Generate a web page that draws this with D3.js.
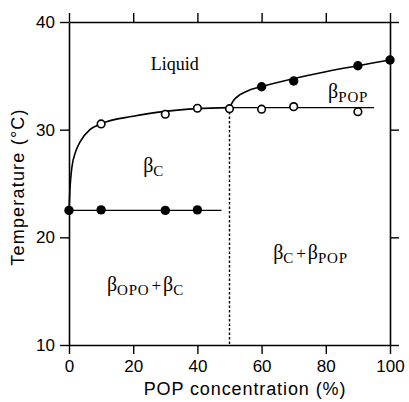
<!DOCTYPE html>
<html>
<head>
<meta charset="utf-8">
<script src="https://cdn.jsdelivr.net/npm/d3@7"></script>
<style>
  body { margin: 0; background: #fff; }
  svg { display: block; }
</style>
</head>
<body>
<div id="chart"></div>
<script>
// [POP %, temperature °C]
const filledLow = [[0, 22.5], [10, 22.55], [30, 22.5], [40, 22.55]];
const openPts = [[10, 30.53], [30, 31.43], [40, 31.99], [50, 31.95], [60, 31.9], [70, 32.14], [90, 31.67]];
const filledHigh = [[60, 33.99], [70, 34.52], [90, 35.94], [100, 36.47]];
// traced curves
const lowerCurve = [[0, 22.5], [0.3, 24.5], [0.9, 26.5], [2, 27.9], [3.5, 28.9], [6.5, 30.0], [10, 30.55], [20, 31.25], [30, 31.7], [40, 31.95], [50, 32.05]];
const upperCurve = [[50, 32.05], [51.5, 32.8], [53.3, 33.25], [56.4, 33.7], [60, 34.0], [100, 36.47]];
const solidusLine = [[0, 22.5], [47.5, 22.5]];
const popLine = [[50, 32.05], [95, 32.05]];
const dashLine = [[50, 32.05], [50, 10]];
const xTicks = [0, 20, 40, 60, 80, 100];
const yTicks = [10, 20, 30, 40];

let margin = {top: 22, right: 19, bottom: 57, left: 69},
  width = 409 - margin.left - margin.right,
  height = 402 - margin.top - margin.bottom;

let svg = d3.select("#chart").append("svg")
  .attr("width", 409).attr("height", 402)
  .append("g")
  .attr("transform", "translate(" + margin.left + "," + margin.top + ")");

let x = d3.scaleLinear().domain([0, 100]).range([0, width]);
let y = d3.scaleLinear().domain([10, 40]).range([height, 0]);

function styleAxis(g) {
  g.selectAll("path.domain").attr("stroke-width", 1.6);
  g.selectAll(".tick line").attr("stroke-width", 1.4);
  g.selectAll("text").attr("font-family", "'Liberation Sans', Arial, sans-serif")
    .attr("font-size", 17).attr("fill", "#000");
}

svg.append("g").attr("transform", "translate(0," + height + ")")
  .call(d3.axisBottom(x).tickValues(xTicks).tickSize(9).tickSizeOuter(0).tickPadding(6))
  .call(styleAxis);
svg.append("g")
  .call(d3.axisLeft(y).tickValues(yTicks).tickSize(9).tickSizeOuter(0).tickPadding(5))
  .call(styleAxis);
svg.append("g")
  .call(d3.axisTop(x).tickValues(xTicks).tickSize(9).tickSizeOuter(0).tickFormat(""))
  .call(styleAxis);
svg.append("g").attr("transform", "translate(" + width + ",0)")
  .call(d3.axisRight(y).tickValues(yTicks).tickSize(9).tickSizeOuter(0).tickFormat(""))
  .call(styleAxis);

// axis titles
svg.append("text")
  .attr("x", 176).attr("y", height + 50)
  .attr("text-anchor", "middle")
  .attr("font-family", "'Liberation Sans', Arial, sans-serif")
  .attr("font-size", 18).attr("letter-spacing", 0.9)
  .text("POP concentration (%)");
svg.append("text")
  .attr("transform", "rotate(-90)")
  .attr("x", -165).attr("y", -45)
  .attr("text-anchor", "middle")
  .attr("font-family", "'Liberation Sans', Arial, sans-serif")
  .attr("font-size", 18).attr("letter-spacing", 1.2)
  .text("Temperature (°C)");

let line = d3.line().x(d => x(d[0])).y(d => y(d[1]));

svg.append("path").datum(solidusLine)
  .attr("fill", "none").attr("stroke", "#000").attr("stroke-width", 1.1).attr("d", line);
svg.append("path").datum(popLine)
  .attr("fill", "none").attr("stroke", "#000").attr("stroke-width", 1.2).attr("d", line);
svg.append("path").datum(dashLine)
  .attr("fill", "none").attr("stroke", "#000").attr("stroke-width", 1.4)
  .attr("stroke-dasharray", "2.5,2").attr("d", line);
svg.append("path").datum(lowerCurve)
  .attr("fill", "none").attr("stroke", "#000").attr("stroke-width", 1.6)
  .attr("d", line.curve(d3.curveMonotoneX));
svg.append("path").datum(upperCurve)
  .attr("fill", "none").attr("stroke", "#000").attr("stroke-width", 1.6)
  .attr("d", line.curve(d3.curveMonotoneX));

// points
svg.selectAll(".open").data(openPts).enter().append("circle")
  .attr("cx", d => x(d[0])).attr("cy", d => y(d[1])).attr("r", 3.8)
  .attr("fill", "#fff").attr("stroke", "#000").attr("stroke-width", 1.6);
svg.selectAll(".fillLow").data(filledLow.concat(filledHigh)).enter().append("circle")
  .attr("cx", d => x(d[0])).attr("cy", d => y(d[1])).attr("r", 4.7)
  .attr("fill", "#000");

// region labels
function phaseLabel(px, py, parts) {
  let t = svg.append("text")
    .attr("x", x(px)).attr("y", y(py))
    .attr("font-family", "'Liberation Serif', 'Times New Roman', serif")
    .attr("font-size", 20);
  let shift = 0;
  parts.forEach(function(p) {
    let ts = t.append("tspan").text(p[0]);
    let want = p[1] ? 4 : 0;
    ts.attr("dy", want - shift);
    if (p[1]) ts.attr("font-size", 15).attr("letter-spacing", 0.8);
    if (p[0] == "+") ts.attr("dx", 2).attr("font-size", 17);
    if (p[0] == "β" && shift == 0 && t.selectAll("tspan").size() > 1) ts.attr("dx", 2);
    shift = want;
  });
}
phaseLabel(25.5, 35.54, [["Liquid", false]]);
d3.select(svg.selectAll("text").nodes().pop()).attr("font-size", 18);
phaseLabel(23.1, 26.07, [["β", false], ["C", true]]);
phaseLabel(80.7, 32.94, [["β", false], ["POP", true]]);
phaseLabel(11.8, 15.02, [["β", false], ["OPO", true], ["+", false], ["β", false], ["C", true]]);
phaseLabel(63.6, 17.95, [["β", false], ["C", true], ["+", false], ["β", false], ["POP", true]]);
</script>
</body>
</html>
